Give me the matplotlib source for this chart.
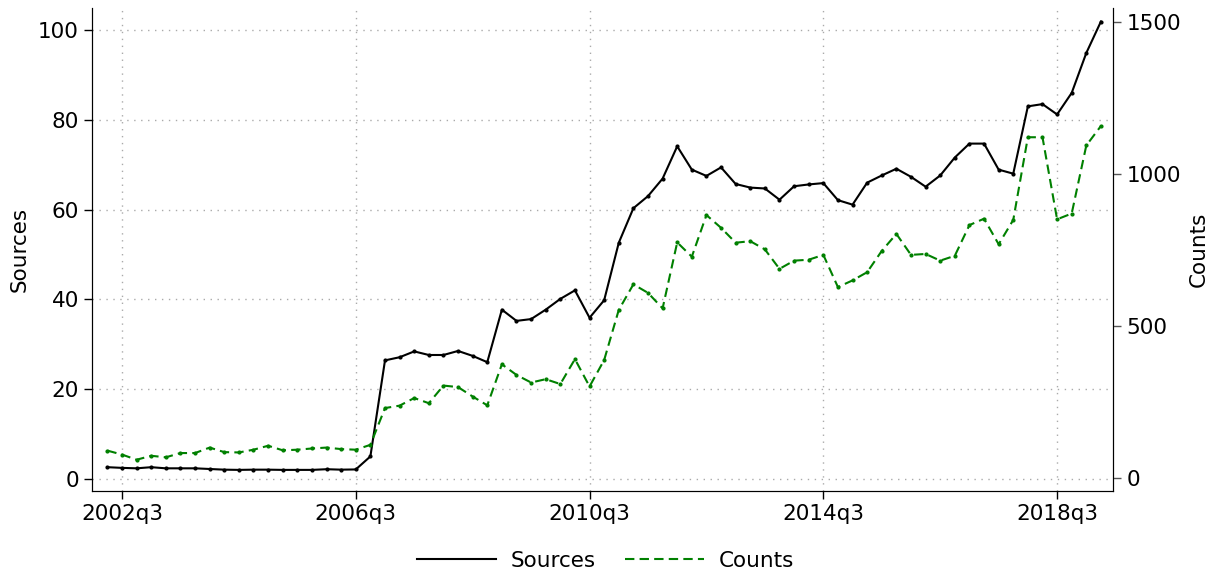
import matplotlib
matplotlib.use("Agg")
import matplotlib.pyplot as plt
from matplotlib.lines import Line2D
import numpy as np

# quarterly series, 2002q2 .. 2019q2
start_year, start_q = 2002, 2
sources = [2.6, 2.45, 2.35, 2.6, 2.35, 2.35, 2.35, 2.2, 2.05, 2.0,
           2.05, 2.05, 2.0, 2.0, 2.0, 2.15, 2.05, 2.1, 5.0, 26.4,
           27.1, 28.4, 27.6, 27.6, 28.5, 27.4, 26.0, 37.7, 35.2, 35.6,
           37.7, 40.1, 42.0, 35.9, 39.8, 52.6, 60.3, 63.0, 66.9, 74.1,
           68.9, 67.5, 69.4, 65.7, 64.9, 64.7, 62.2, 65.2, 65.6, 65.9,
           62.1, 61.1, 66.0, 67.6, 69.1, 67.3, 65.1, 67.6, 71.6, 74.7,
           74.7, 68.9, 68.0, 83.0, 83.5, 81.2, 86.0, 94.9, 101.9]
counts = [90, 77, 60, 73, 68, 82, 82, 100, 85, 84,
          93, 106, 91, 93, 97, 100, 95, 93, 109, 230,
          238, 263, 246, 304, 299, 268, 239, 374, 339, 314,
          325, 309, 391, 301, 388, 553, 637, 609, 558, 775,
          728, 865, 823, 774, 779, 752, 688, 715, 718, 734,
          628, 650, 677, 747, 803, 734, 737, 715, 731, 832,
          853, 769, 849, 1121, 1121, 851, 870, 1094, 1158]
xticks = ["2002q3", "2006q3", "2010q3", "2014q3", "2018q3"]

def qindex(label):
    y, q = label.split("q")
    return (int(y) - start_year) * 4 + int(q) - start_q

t = np.arange(len(sources))
fs = 15.5
dash = (0, (4.5, 2.5))
plt.rcParams["font.family"] = "DejaVu Sans"

fig = plt.figure(figsize=(12.08, 5.76), dpi=100)
ax = fig.add_axes([0.0762, 0.1476, 0.8452, 0.8384])
ax2 = ax.twinx()

ax.plot(t, sources, color="black", lw=1.5, marker="o", ms=2)
ax2.plot(t, counts, color="green", lw=1.5, ls=dash, marker="o", ms=2)

ax.set_xlim(-1.05, 68.83)
ax.set_ylim(-2.7, 104.9)
ax2.set_ylim(-42.8, 1546)

ax.set_xticks([qindex(s) for s in xticks])
ax.set_xticklabels(xticks)
ax.set_yticks([0, 20, 40, 60, 80, 100])
ax2.set_yticks([0, 500, 1000, 1500])

ax.grid(True, color="#aaaaaa", ls=(0, (1, 4)), lw=1)
ax.set_axisbelow(True)

for a in (ax, ax2):
    a.spines["top"].set_visible(False)
    a.tick_params(labelsize=fs, length=6, width=1, direction="out")
ax.spines["bottom"].set_color("#333333")
ax.spines["left"].set_color("black")
ax2.spines["right"].set_color("black")
ax2.tick_params(axis="y", color="#555555")

ax.set_ylabel("Sources", fontsize=fs, labelpad=6)
ax2.set_ylabel("Counts", fontsize=fs, labelpad=6)

# legend handles without the point markers
h1 = Line2D([], [], color="black", lw=1.5)
h2 = Line2D([], [], color="green", lw=1.5, ls=dash)
fig.legend([h1, h2], ["Sources", "Counts"], loc="center",
           bbox_to_anchor=(0.501, 0.026), ncol=2, frameon=False,
           fontsize=fs, handlelength=3.7, handletextpad=0.65,
           columnspacing=1.35)

fig.savefig("out.png", dpi=100)
